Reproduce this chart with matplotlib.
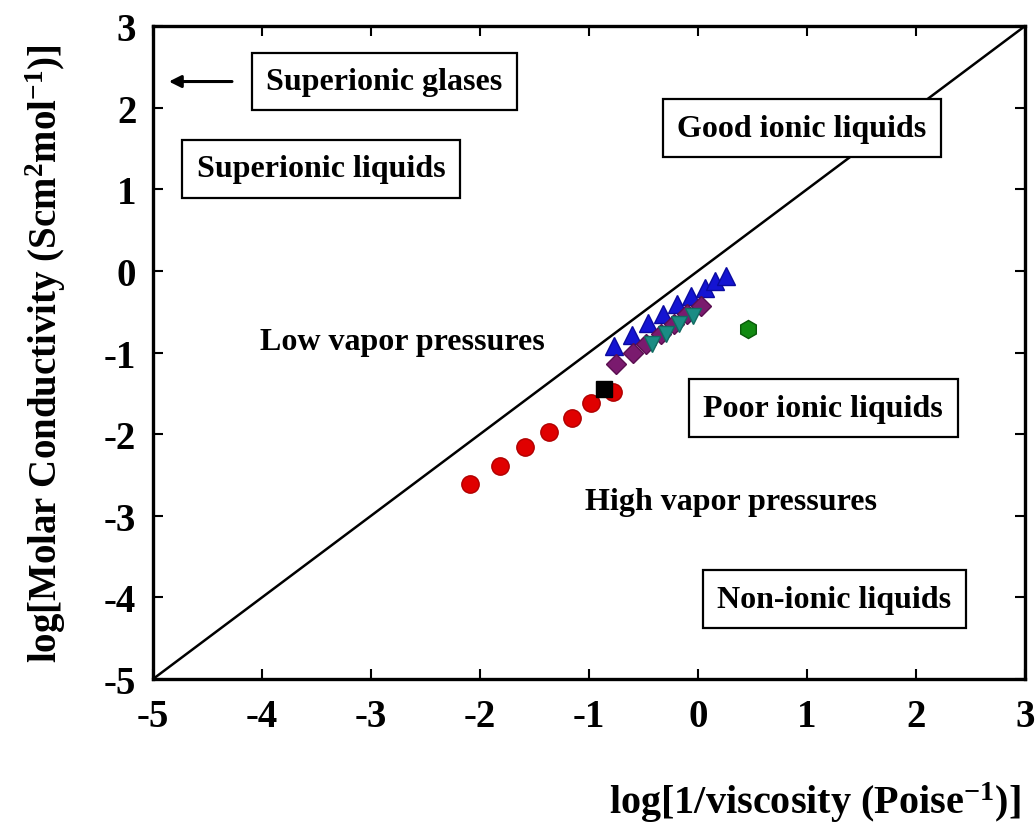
import matplotlib.pyplot as plt
import numpy as np

plt.rcParams['font.family'] = ['Liberation Serif', 'DejaVu Serif']
plt.rcParams['font.weight'] = 'bold'
plt.rcParams['mathtext.fontset'] = 'custom'
plt.rcParams['mathtext.rm'] = 'Liberation Serif:bold'
plt.rcParams['mathtext.default'] = 'rm'
plt.rcParams['axes.unicode_minus'] = False

# ideal KCl line
ideal_x = np.array([-5, 3])
ideal_y = np.array([-5, 3])

# data series (log fluidity, log molar conductivity)
red_x = np.array([-2.09, -1.82, -1.59, -1.37, -1.16, -0.98, -0.78])
red_y = np.array([-2.61, -2.39, -2.16, -1.97, -1.80, -1.62, -1.48])

black_x = np.array([-0.86])
black_y = np.array([-1.45])

blue_x = np.array([-0.77, -0.61, -0.46, -0.32, -0.19, -0.06, 0.06, 0.16, 0.26])
blue_y = np.array([-0.92, -0.78, -0.64, -0.53, -0.41, -0.31, -0.21, -0.12, -0.06])

purple_x = np.array([-0.75, -0.60, -0.48, -0.34, -0.22, -0.10, 0.03])
purple_y = np.array([-1.14, -1.00, -0.89, -0.77, -0.65, -0.53, -0.43])

teal_x = np.array([-0.42, -0.29, -0.17, -0.05])
teal_y = np.array([-0.89, -0.77, -0.65, -0.55])

green_x = np.array([0.46])
green_y = np.array([-0.71])

boxed_labels = [
    ("Superionic glases", -2.88, 2.32),
    ("Superionic liquids", -3.46, 1.25),
    ("Good ionic liquids", 0.95, 1.75),
    ("Poor ionic liquids", 1.15, -1.68),
    ("Non-ionic liquids", 1.25, -4.02),
]
plain_labels = [
    ("Low vapor pressures", -2.71, -0.86),
    ("High vapor pressures", 0.30, -2.82),
]

fig = plt.figure(figsize=(10.36, 8.29), dpi=100)
ax = fig.add_axes([0.1477, 0.1797, 0.8417, 0.7877])

ax.plot(ideal_x, ideal_y, color='black', lw=1.8, zorder=2)

ax.plot(red_x, red_y, 'o', color='#e00000', mec='#b00000', ms=12.5, zorder=3)
ax.plot(black_x, black_y, 's', color='black', ms=11, zorder=4)
ax.plot(blue_x, blue_y, '^', color='#1414d2', mec='#0a0aa0', ms=13, zorder=3)
ax.plot(purple_x, purple_y, 'D', color='#7a1a6e', mec='#5a0f50', ms=10, zorder=4)
ax.plot(teal_x, teal_y, 'v', color='#1a8c84', mec='#106a60', ms=12, zorder=5)
ax.plot(green_x, green_y, 'h', color='#128a12', mec='#0a5a0a', ms=13, zorder=3)

for text, x, y in boxed_labels:
    ax.text(x, y, text, fontsize=23, fontweight='bold', ha='center', va='center',
            bbox={'boxstyle': 'square,pad=0.45', 'facecolor': 'white',
                  'edgecolor': 'black', 'linewidth': 1.6}, zorder=6)

for text, x, y in plain_labels:
    ax.text(x, y, text, fontsize=23, fontweight='bold', ha='center', va='center', zorder=6)

ax.annotate('', xy=(-4.88, 2.32), xytext=(-4.25, 2.32),
            arrowprops={'arrowstyle': '-|>', 'color': 'black', 'lw': 2.2,
                        'mutation_scale': 18})

ax.set_xlim(-5, 3)
ax.set_ylim(-5, 3)
ax.set_xticks(np.arange(-5, 4, 1))
ax.set_yticks(np.arange(-5, 4, 1))
ax.tick_params(direction='in', length=7, width=1.5, top=True, right=True,
               labelsize=28)
ax.tick_params(axis='x', pad=14)
ax.tick_params(axis='y', pad=12)
for spine in ax.spines.values():
    spine.set_linewidth(2.4)

ax.set_ylabel("log[Molar Conductivity (Scm$^2$mol$^{-1}$)]", fontsize=28,
              fontweight='bold', labelpad=26)
fig.text(0.985, 0.005, "log[1/viscosity (Poise$^{-1}$)]", fontsize=29,
         fontweight='bold', ha='right', va='bottom')

fig.savefig('out.png', dpi=100)
